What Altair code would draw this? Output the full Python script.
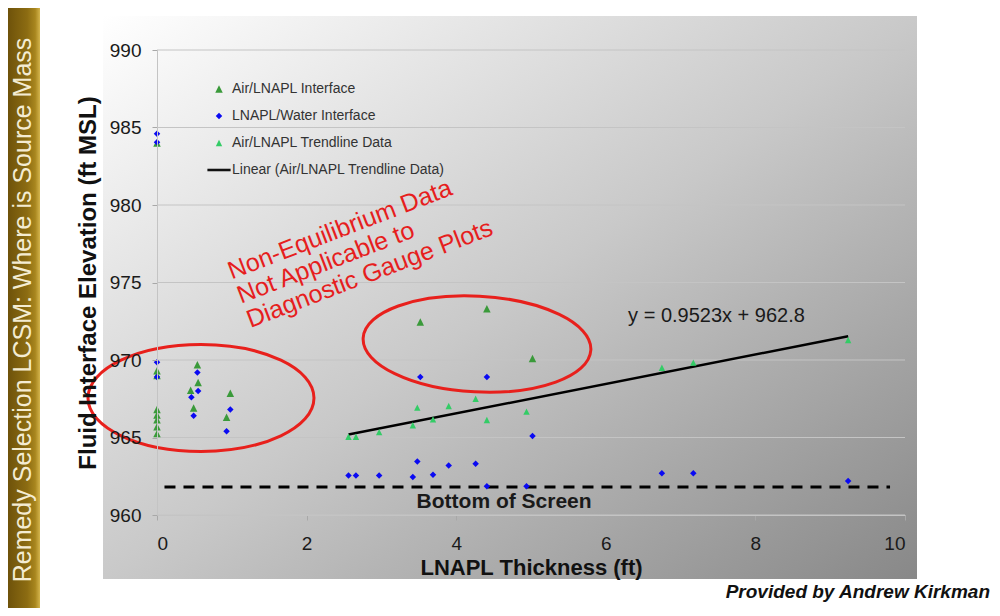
import altair as alt
import pandas as pd

FONT = "Liberation Sans"

# ---------------- data ----------------
SERIES = [
    "Air/LNAPL Interface",
    "LNAPL/Water Interface",
    "Air/LNAPL Trendline Data",
    "Linear (Air/LNAPL Trendline Data)",
]
SERIES_COLORS = ["#3a9a3a", "#0a0af2", "#33cc66", "#111111"]
SERIES_SHAPES = [
    "M0,-1L1,1L-1,1Z",
    "M0,-0.87L0.87,0L0,0.87L-0.87,0Z",
    "M0,-0.85L0.85,0.85L-0.85,0.85Z",
    "M-3.1,-0.34L3.1,-0.34L3.1,0.34L-3.1,0.34Z",
]

air_x = [0, 0, 0, 0, 0, 0, 0, 0, 0.54, 0.55, 0.45, 0.49, 0.98, 0.93, 3.52, 4.41, 5.02]
air_y = [984.0, 969.3, 969.0, 966.8, 966.45, 966.15, 965.7, 965.25,
         969.7, 968.55, 968.05, 966.9, 967.85, 966.3, 972.45, 973.3, 970.1]

water_x = [0, 0, 0, 0, 0.54, 0.55, 0.46, 0.49, 0.98, 0.93, 3.52, 4.41,
           2.56, 2.66, 2.97, 3.42, 3.48, 3.69, 3.90, 4.26, 4.41, 4.94, 5.02, 6.75, 7.17, 9.24]
water_y = [984.6, 984.05, 969.85, 968.9, 969.2, 968.0, 967.6, 966.4, 966.8, 965.4, 968.9, 968.9,
           962.55, 962.55, 962.55, 962.45, 963.45, 962.6, 963.2, 963.3, 961.85, 961.85, 965.1,
           962.7, 962.7, 962.2]

trend_x = [2.56, 2.66, 2.97, 3.42, 3.48, 3.69, 3.90, 4.26, 4.41, 4.94, 6.75, 7.17, 9.24]
trend_y = [965.05, 965.05, 965.35, 965.79, 966.93, 966.17, 967.03, 967.5, 966.13, 966.67,
           969.5, 969.83, 971.29]

X_TICKS = [0, 2, 4, 6, 8, 10]
Y_TICKS = [960, 965, 970, 975, 980, 985, 990]

BOTTOM_OF_SCREEN = 961.8
BOS_EXTENT = [0.1, 9.8]

# annotations (data coordinates)
NOTE_LINES = ["Non-Equilibrium Data", "Not Applicable to", "Diagnostic Gauge Plots"]
NOTE_POS = (1.0, 975.2)
EQ_TEXT = "y = 0.9523x + 962.8"
EQ_POS = (7.48, 972.85)
BOS_TEXT = "Bottom of Screen"
BOS_POS = (4.64, 960.85)
ELLIPSE_LEFT = (0.588, 967.55)
ELLIPSE_MID = (4.278, 971.03)
SLIDE_TITLE = "Remedy Selection LCSM: Where is Source Mass"
CREDIT = "Provided by Andrew Kirkman"
X_TITLE = "LNAPL Thickness (ft)"
Y_TITLE = "Fluid Interface Elevation (ft MSL)"

# ---------------- tables ----------------
points = pd.concat([
    pd.DataFrame({"x": air_x, "y": air_y, "series": SERIES[0]}),
    pd.DataFrame({"x": water_x, "y": water_y, "series": SERIES[1]}),
    pd.DataFrame({"x": trend_x, "y": trend_y, "series": SERIES[2]}),
], ignore_index=True)
trend = pd.DataFrame({"x": trend_x, "y": trend_y})
grid = pd.DataFrame({"y": Y_TICKS})
bos = pd.DataFrame({"x": [BOS_EXTENT[0]], "x2": [BOS_EXTENT[1]], "y": [BOTTOM_OF_SCREEN]})
one = pd.DataFrame({"a": [0]})

W, H = 748, 465

x_scale = alt.Scale(domain=[0, 10], nice=False)
y_scale = alt.Scale(domain=[960, 990], nice=False)
x_axis = alt.Axis(values=X_TICKS, grid=False, tickSize=5, tickColor="#a8a8a8",
                  domainColor="#c4c4c4", labelFont=FONT, labelFontSize=19, labelColor="#1a1a1a",
                  labelPadding=14, titleFont=FONT, titleFontSize=22, titleFontWeight="bold",
                  titleColor="#111111", titlePadding=4, zindex=1)
y_axis = alt.Axis(values=Y_TICKS, grid=False, tickSize=5, tickColor="#a8a8a8",
                  domainColor="#c4c4c4", labelFont=FONT, labelFontSize=19, labelColor="#1a1a1a",
                  labelPadding=11, titleFont=FONT, titleFontSize=24, titleFontWeight="bold",
                  titleColor="#111111", titlePadding=9, zindex=1)


def X(field="x"):
    return alt.X(f"{field}:Q", scale=x_scale, axis=x_axis, title=X_TITLE)


def Y(field="y"):
    return alt.Y(f"{field}:Q", scale=y_scale, axis=y_axis, title=Y_TITLE)


def XD(v):
    return alt.X(datum=v, scale=x_scale, axis=x_axis, title=X_TITLE)


def YD(v):
    return alt.Y(datum=v, scale=y_scale, axis=y_axis, title=Y_TITLE)


gold_grad = {"gradient": "linear", "x1": 0, "y1": 0, "x2": 1, "y2": 0,
             "stops": [{"offset": 0, "color": "#6e520a"}, {"offset": 0.6, "color": "#8c6c12"},
                       {"offset": 0.85, "color": "#a8861e"}, {"offset": 1, "color": "#d4b44c"}]}
gray_grad = {"gradient": "linear", "x1": 0, "y1": 0, "x2": 1, "y2": 1,
             "stops": [{"offset": 0, "color": "#ffffff"}, {"offset": 0.5, "color": "#c9c9c9"},
                       {"offset": 1, "color": "#888888"}]}

gold_bar = alt.Chart(one).mark_rect(fill=gold_grad).encode(
    x=alt.value(-149), x2=alt.value(-117), y=alt.value(-42), y2=alt.value(558))
gold_text = alt.Chart(one).mark_text(
    text=SLIDE_TITLE, angle=270, font=FONT, fontSize=25, color="#f4ecd2",
    align="center", baseline="middle").encode(x=alt.value(-134), y=alt.value(260))
gray_bg = alt.Chart(one).mark_rect(fill=gray_grad).encode(
    x=alt.value(-54), x2=alt.value(760), y=alt.value(-34), y2=alt.value(529))

grid_rules = alt.Chart(grid).mark_rule(color="#c4c4c4", strokeWidth=1).encode(y=Y())

bos_line = alt.Chart(bos).mark_rule(color="#000000", strokeWidth=3, strokeDash=[11, 8]).encode(
    x=X(), x2="x2:Q", y=Y())

trend_line = alt.Chart(trend).transform_regression("x", "y").mark_line(
    color="#000000", strokeWidth=2.5).encode(x=X(), y=Y())

pts = alt.Chart(points).mark_point(filled=True, opacity=1, size=56).encode(
    x=X(), y=Y(),
    color=alt.Color("series:N", title=None,
                    scale=alt.Scale(domain=SERIES, range=SERIES_COLORS),
                    legend=alt.Legend(orient="none", legendX=55, legendY=32, padding=0,
                                      labelFont=FONT, labelFontSize=14, labelColor="#333333",
                                      labelLimit=500, rowPadding=13, labelOffset=6,
                                      symbolSize=56)),
    shape=alt.Shape("series:N", title=None,
                    scale=alt.Scale(domain=SERIES, range=SERIES_SHAPES)),
    order=alt.Order("idx:Q"),
).transform_window(idx="row_number()")

ell_left = alt.Chart(one).mark_point(
    shape="M-1,0A1,0.473,0,1,1,1,0A1,0.473,0,1,1,-1,0", size=51076, filled=False,
    stroke="#e8201c", strokeWidth=3, opacity=1).encode(
    x=XD(ELLIPSE_LEFT[0]), y=YD(ELLIPSE_LEFT[1]))
ell_mid = alt.Chart(one).mark_point(
    shape="M-1,0A1,0.42,0,1,1,1,0A1,0.42,0,1,1,-1,0", size=51984, filled=False,
    stroke="#e8201c", strokeWidth=3, opacity=1, angle=3).encode(
    x=XD(ELLIPSE_MID[0]), y=YD(ELLIPSE_MID[1]))

note = alt.Chart(one).mark_text(
    text=NOTE_LINES, align="left", baseline="alphabetic", angle=339, font=FONT,
    fontSize=25, lineHeight=26, color="#e61e1e").encode(x=XD(NOTE_POS[0]), y=YD(NOTE_POS[1]))
eq = alt.Chart(one).mark_text(
    text=EQ_TEXT, align="center", baseline="middle", font=FONT, fontSize=20,
    color="#1a1a1a").encode(x=XD(EQ_POS[0]), y=YD(EQ_POS[1]))
bos_text = alt.Chart(one).mark_text(
    text=BOS_TEXT, align="center", baseline="middle", font=FONT, fontSize=21,
    fontWeight="bold", color="#1a1a1a").encode(x=XD(BOS_POS[0]), y=YD(BOS_POS[1]))
credit = alt.Chart(one).mark_text(
    text=CREDIT, align="right", baseline="middle", font=FONT, fontSize=19,
    fontWeight="bold", fontStyle="italic", color="#111111").encode(
    x=alt.value(833), y=alt.value(542))

chart = alt.layer(
    gold_bar, gold_text, gray_bg, grid_rules, bos_line, trend_line, pts,
    ell_left, ell_mid, note, eq, bos_text, credit,
).properties(
    width=W, height=H,
    autosize=alt.AutoSizeParams(type="none"),
    padding={"left": 149, "top": 42, "right": 87, "bottom": 93},
    background="#ffffff",
).configure_view(stroke="transparent")

chart.save("out.html", embed_options={"renderer": "svg", "actions": False})
